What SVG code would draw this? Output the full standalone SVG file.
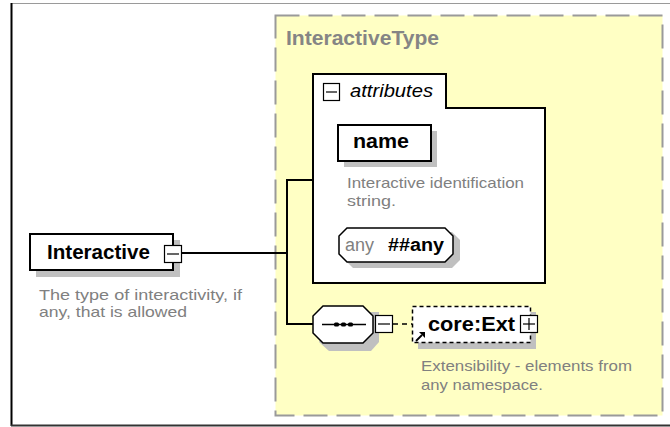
<svg xmlns="http://www.w3.org/2000/svg" width="670" height="427" viewBox="0 0 670 427">
<style>
.bold{font-family:"Liberation Sans",Arial,sans-serif;font-weight:bold;font-size:20px;fill:#000}
.desc{font-family:"Liberation Sans",Arial,sans-serif;font-size:15px;fill:#808080}
.shadow{fill:#c0c0c0}
.box{fill:#fff;stroke:#000;stroke-width:2}
.icon{fill:#fff;stroke:#000;stroke-width:1.2}
.conn{fill:none;stroke:#000;stroke-width:2}
</style>
<rect x="0" y="0" width="670" height="427" fill="#fff"/>
<line x1="11" y1="3.5" x2="670" y2="3.5" stroke="#9a9a9a" stroke-width="1"/>
<line x1="11.5" y1="3" x2="11.5" y2="426" stroke="#000" stroke-width="2"/>
<line x1="11" y1="425.5" x2="670" y2="425.5" stroke="#333" stroke-width="2"/>

<g id="InteractiveType">
<rect x="275.5" y="15.5" width="387" height="400" fill="#ffffc4" stroke="#9a9a9a" stroke-width="2" stroke-dasharray="24 9"/>
<text x="286" y="45" class="bold" style="fill:#858585" textLength="153" lengthAdjust="spacingAndGlyphs">InteractiveType</text>
</g>

<g id="connectors">
<line x1="182" y1="253" x2="287" y2="253" class="conn"/>
<polyline points="313,180 287,180 287,324 313,324" class="conn"/>
<line x1="393" y1="324" x2="412" y2="324" stroke="#000" stroke-width="1.5" stroke-dasharray="5 4"/>
</g>

<g id="Interactive">
<rect x="36" y="240" width="144" height="37" class="shadow"/>
<rect x="30" y="234" width="143" height="36" class="box"/>
<text x="47" y="259" class="bold" textLength="103" lengthAdjust="spacingAndGlyphs">Interactive</text>
<rect x="164.5" y="245.5" width="17" height="17" class="icon"/>
<line x1="167" y1="254" x2="179" y2="254" stroke="#000" stroke-width="1.2"/>
<text x="39" y="300" class="desc" textLength="203" lengthAdjust="spacingAndGlyphs">The type of interactivity, if</text>
<text x="39" y="317" class="desc" textLength="148" lengthAdjust="spacingAndGlyphs">any, that is allowed</text>
</g>

<g id="attributes">
<path d="M313,74 H446 V108 H545 V283 H313 Z" class="box"/>
<rect x="323.5" y="83.5" width="16" height="17" class="icon"/>
<line x1="326" y1="92" x2="337" y2="92" stroke="#000" stroke-width="1.2"/>
<text x="350" y="97" font-family="'Liberation Sans',Arial,sans-serif" font-style="italic" font-size="19" fill="#000" textLength="83" lengthAdjust="spacingAndGlyphs">attributes</text>
</g>

<g id="name">
<rect x="344" y="131" width="93" height="36" class="shadow"/>
<rect x="338" y="125" width="93" height="36" class="box"/>
<text x="353" y="148" class="bold" textLength="56" lengthAdjust="spacingAndGlyphs">name</text>
<text x="347" y="188" class="desc" textLength="177" lengthAdjust="spacingAndGlyphs">Interactive identification</text>
<text x="347" y="206" class="desc" textLength="49" lengthAdjust="spacingAndGlyphs">string.</text>
</g>

<g id="anyAttribute">
<polygon points="353,234 452,234 460,242 460,262 452,270 353,270 345,262 345,242" class="shadow" transform="translate(0,-2)"/>
<polygon points="347,228 445,228 453,236 453,254 445,262 347,262 339,254 339,236" fill="#fff" stroke="#000" stroke-width="1.5"/>
<text x="345" y="251" font-family="'Liberation Sans',Arial,sans-serif" font-size="18" fill="#808080" textLength="29" lengthAdjust="spacingAndGlyphs">any</text>
<text x="388" y="251" font-family="'Liberation Sans',Arial,sans-serif" font-weight="bold" font-size="18" fill="#000" textLength="56" lengthAdjust="spacingAndGlyphs">##any</text>
</g>

<g id="sequence">
<polygon points="329,312 379,312 379,342 371,351 329,351 319,342" class="shadow"/>
<polygon points="323,306 363,306 373,316 373,333 363,343 323,343 313,333 313,316" fill="#fff" stroke="#000" stroke-width="1.5"/>
<line x1="322" y1="324.5" x2="366" y2="324.5" stroke="#000" stroke-width="1.5"/>
<rect x="334" y="322.5" width="5" height="4" rx="1.5" fill="#000"/>
<rect x="341" y="322.5" width="5" height="4" rx="1.5" fill="#000"/>
<rect x="348" y="322.5" width="5" height="4" rx="1.5" fill="#000"/>
<rect x="375.5" y="315.5" width="17" height="17" class="icon"/>
<line x1="378" y1="324" x2="390" y2="324" stroke="#000" stroke-width="1.2"/>
</g>

<g id="coreExt">
<rect x="418" y="312" width="118" height="37" class="shadow"/>
<rect x="412.5" y="306.5" width="118" height="36" fill="#fff" stroke="#000" stroke-width="1.5" stroke-dasharray="4 3"/>
<text x="428" y="331" class="bold" textLength="87" lengthAdjust="spacingAndGlyphs">core:Ext</text>
<rect x="520.5" y="315.5" width="17" height="17" class="icon"/>
<line x1="523" y1="324" x2="535" y2="324" stroke="#000" stroke-width="1.2"/>
<line x1="529" y1="318" x2="529" y2="330" stroke="#000" stroke-width="1.2"/>
<line x1="416" y1="341" x2="422" y2="335" stroke="#000" stroke-width="1.8"/>
<polygon points="425,332 425,338 419,332" fill="#000"/>
<text x="421" y="371" class="desc" textLength="211" lengthAdjust="spacingAndGlyphs">Extensibility - elements from</text>
<text x="421" y="390" class="desc" textLength="122" lengthAdjust="spacingAndGlyphs">any namespace.</text>
</g>
</svg>
